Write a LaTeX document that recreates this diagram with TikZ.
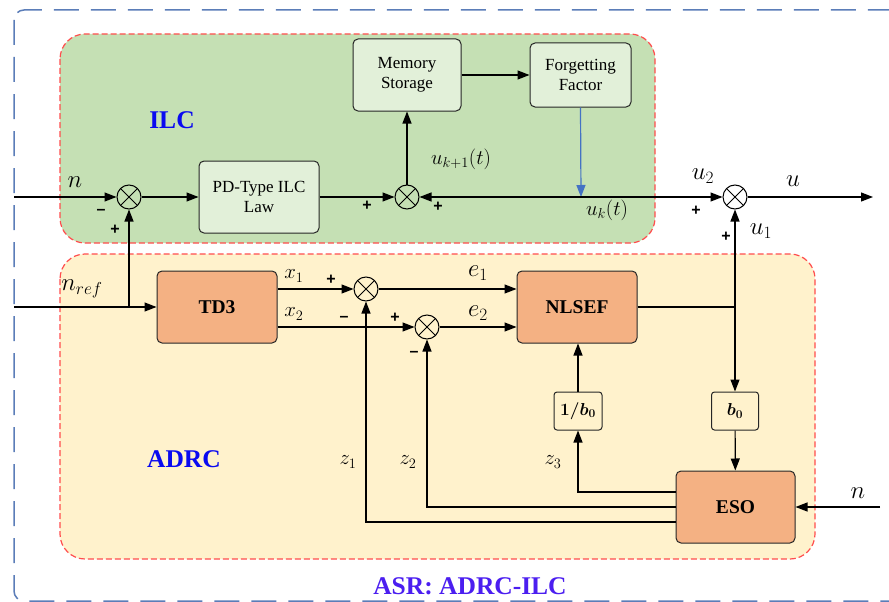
\documentclass[tikz,border=0pt]{standalone}
\usepackage{fontspec}
\setmainfont{Liberation Serif}
\newfontfamily\signfont{Liberation Sans}
\usetikzlibrary{arrows.meta}
\definecolor{outerblue}{HTML}{5B7DB8}
\definecolor{redline}{HTML}{FF4D4D}
\definecolor{ilcfill}{HTML}{C5E0B4}
\definecolor{adrcfill}{HTML}{FFF2CC}
\definecolor{lboxfill}{HTML}{E2F0D9}
\definecolor{oboxfill}{HTML}{F4B183}
\definecolor{arrowblue}{HTML}{4472C4}
\definecolor{titleblue}{HTML}{0A0AF0}
\definecolor{asrblue}{HTML}{4B1EF0}
\newcommand{\fsz}[1]{\fontsize{#1}{#1}\selectfont}
\begin{document}
\begin{tikzpicture}[x=1pt,y=-1pt,
  line width=1.2pt,
  arr/.style={-{Triangle[length=12pt,width=9pt]}},
  lbox/.style={draw=black!85, line width=1pt, rounded corners=5pt, fill=lboxfill, align=center, inner sep=0pt, font=\fsz{17}},
  obox/.style={draw=black!85, line width=1pt, rounded corners=5pt, fill=oboxfill, align=center, inner sep=0pt, font=\bfseries\fsz{19.5}},
  gbox/.style={draw=black!85, line width=1pt, rounded corners=3pt, fill=adrcfill, align=center, inner sep=0pt, font=\boldmath\fsz{18}},
  junc/.style={circle, draw, line width=1pt, minimum size=24pt, inner sep=0pt,
    path picture={\draw[line width=1pt] (path picture bounding box.south west) -- (path picture bounding box.north east)
      (path picture bounding box.north west) -- (path picture bounding box.south east);}},
  sgn/.style={font=\signfont\bfseries\fsz{16}, inner sep=0pt},
  lab/.style={inner sep=0pt},
  region/.style={draw=redline, line width=1.2pt, dash pattern=on 6pt off 3pt, rounded corners=25pt},
  title/.style={font=\bfseries\fsz{25.5}, text=titleblue, inner sep=0pt}
]
\useasboundingbox (0,0) rectangle (889,602);
% outer region
\draw[outerblue, line width=1.5pt, dash pattern=on 25pt off 12pt, rounded corners=10pt] (14,10) rectangle (910,601);
% ILC and ADRC regions
\draw[region, fill=ilcfill] (60,34) rectangle (655,243);
\draw[region, fill=adrcfill] (60,254) rectangle (815,559);

% titles
\node[title] (ilct) at (172,120) {ILC};
\node[title] (adrct) at (184,459) {ADRC};
\node[title, text=asrblue] (asrt) at (470,586) {ASR: ADRC-ILC};

% ILC blocks
\node[lbox, minimum width=108pt, minimum height=72pt] (mem) at (407,75) {Memory\\[3pt]Storage};
\node[lbox, minimum width=101pt, minimum height=64pt] (ff) at (580.5,75) {Forgetting\\[3pt]Factor};
\node[lbox, minimum width=120pt, minimum height=72pt] (pd) at (259,197) {PD-Type ILC\\[3pt]Law};

% ADRC blocks
\node[obox, minimum width=120pt, minimum height=72pt] (td3) at (217,307) {TD3};
\node[obox, minimum width=120pt, minimum height=72pt] (nlsef) at (577,307) {NLSEF};
\node[obox, minimum width=119pt, minimum height=72pt] (eso) at (735.5,507) {ESO};
\node[gbox, minimum width=47pt, minimum height=38pt] (b0) at (735,411) {$b_0$};
\node[gbox, minimum width=48pt, minimum height=38pt] (inv) at (578,411) {$1/b_0$};

% junctions
\node[junc] (j1) at (129,197) {};
\node[junc] (j2) at (407,197) {};
\node[junc] (j3) at (735,197) {};
\node[junc] (j4) at (366,289) {};
\node[junc] (j5) at (427,327) {};

% coordinates
\coordinate (nin) at (14,197);
\coordinate (nref) at (14,307);
\coordinate (uk) at (581,197);
\coordinate (uout) at (873,197);
\coordinate (nes) at (880,507);
\coordinate (tap) at (735,307);

% ILC connections
\draw[arr] (nin) -- (j1);
\draw[arr] (j1) -- (pd);
\draw[arr] (pd) -- (j2);
\draw[arr] (j2) -- (mem);
\draw[arr] (mem) -- (ff);
\draw[arr, arrowblue] (ff.south) -- (uk);
\draw[arr] (uk) -- (j2);
\draw[arr] (uk) -- (j3);
\draw[arr] (j3) -- (uout);

% ADRC connections
\draw[arr] (nref) -- (td3);
\draw[arr] (j1 |- td3.west) -- (j1);
\draw[arr] (td3.east |- j4) -- (j4);
\draw[arr] (td3.east |- j5) -- (j5);
\draw[arr] (j4) -- (j4 -| nlsef.west);
\draw[arr] (j5) -- (j5 -| nlsef.west);
\draw (nlsef.east) -- (tap);
\draw[arr] (tap) -- (j3);
\draw[arr] (tap) -- (b0);
\draw[arr] (b0) -- (eso);
\draw[arr] (inv) -- (inv |- nlsef.south);
\draw[arr] ([yshift=15pt]eso.west) -| (inv);
\draw[arr] (eso.west) -| (j5);
\draw[arr] ([yshift=-15pt]eso.west) -| (j4);
\draw[arr] (nes) -- (eso);

% labels
\node[lab, font=\fsz{27}] (ln) at (75,182) {$n$};
\node[sgn] (s1) at (101,212) {–};
\node[sgn] (s2) at (115,230) {+};
\node[lab, font=\fsz{21}] (lukp) at (461,159) {$u_{k+1}(t)$};
\node[sgn] (s3) at (367,206) {+};
\node[sgn] (s4) at (438,207) {+};
\node[lab, font=\fsz{22}] (luk) at (607,210) {$u_k(t)$};
\node[lab, font=\fsz{27}] (lu2) at (703,176) {$u_2$};
\node[sgn] (s5) at (696,211) {+};
\node[lab, font=\fsz{29}] (lu) at (793,181) {$u$};
\node[lab, font=\fsz{27}] (lu1) at (761,231) {$u_1$};
\node[sgn] (s6) at (726,237) {+};
\node[lab, font=\fsz{24}] (lnref) at (82,289) {$n_{ref}$};
\node[lab, font=\fsz{22}] (lx1) at (294,276) {$x_1$};
\node[lab, font=\fsz{22}] (lx2) at (294,314) {$x_2$};
\node[sgn] (s7) at (331,280) {+};
\node[sgn] (s8) at (344,319) {–};
\node[sgn] (s9) at (395,318) {+};
\node[sgn] (s10) at (414,354) {–};
\node[lab, font=\fsz{23}] (le1) at (478,273) {$e_1$};
\node[lab, font=\fsz{23}] (le2) at (478,313) {$e_2$};
\node[lab, font=\fsz{22}] (lz1) at (348,462) {$z_1$};
\node[lab, font=\fsz{22}] (lz2) at (408,462) {$z_2$};
\node[lab, font=\fsz{22}] (lz3) at (553,462) {$z_3$};
\node[lab, font=\fsz{25}] (lnes) at (858,493) {$n$};
\end{tikzpicture}
\end{document}
